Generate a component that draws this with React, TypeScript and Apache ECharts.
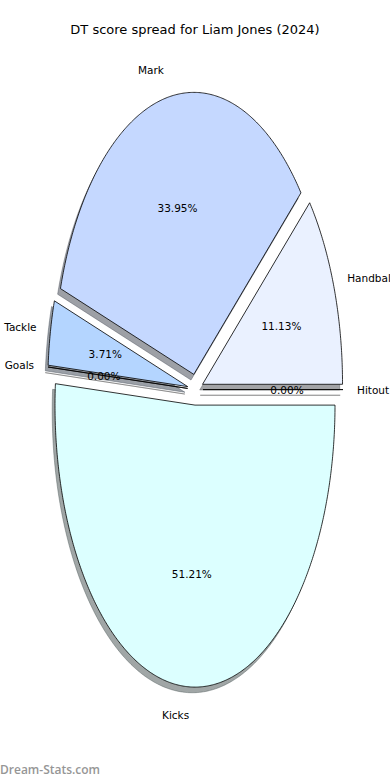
import React, { useEffect, useRef } from 'react';
import * as echarts from 'echarts';

const categories = ['Handball', 'Mark', 'Tackle', 'Goals', 'Kicks', 'Hitout'];
const shares = [11.13, 33.95, 3.71, 0.0, 51.21, 0.0];
const sliceColors = ['#eaf1ff', '#c5d8ff', '#b4d5ff', '#ffffff', '#dcffff', '#ffffff'];
const explode = [0.055, 0.055, 0.055, 0.055, 0.055, 0.055];
const titleText = 'DT score spread for Liam Jones (2024)';
const watermarkText = 'Dream-Stats.com';

// layout of the (vertically stretched) pie
const CX = 195.3;
const CY = 389.6;
const RX = 140;
const RY = 282;
const FONT = 'DejaVu Sans';

function hexToRgb(h: string): number[] {
  const s = h.replace('#', '');
  return [0, 2, 4].map((k) => parseInt(s.slice(k, k + 2), 16));
}

export default function App() {
  const ref = useRef<HTMLDivElement>(null);
  useEffect(() => {
    const chart = echarts.init(ref.current as HTMLDivElement, null, { renderer: 'svg' });
    const total = shares.reduce((a, b) => a + b, 0);
    const starts: number[] = [];
    let acc = 0;
    shares.forEach((v) => {
      starts.push(acc);
      acc += v;
    });

    const geom = (i: number, v: number) => {
      const a1 = (starts[i] / total) * 2 * Math.PI;
      const a2 = ((starts[i] + v) / total) * 2 * Math.PI;
      const mid = (a1 + a2) / 2;
      const e = explode[i];
      const ox = CX + e * RX * Math.cos(mid);
      const oy = CY - e * RY * Math.sin(mid);
      return { a1, a2, mid, ox, oy };
    };

    const renderWedge = (params: any, api: any) => {
      const i = params.dataIndex;
      const v = api.value(0);
      const { a1, a2, ox, oy } = geom(i, v);
      const n = Math.max(1, Math.ceil((a2 - a1) / (Math.PI / 360)));
      const pts: number[][] = [[ox, oy]];
      for (let k = 0; k <= n; k++) {
        const t = a1 + ((a2 - a1) * k) / n;
        pts.push([ox + RX * Math.cos(t), oy - RY * Math.sin(t)]);
      }
      const sdx = -0.02 * RX;
      const sdy = 0.02 * RY;
      const sh = pts.map((p) => [p[0] + sdx, p[1] + sdy]);
      const [r, g, b] = hexToRgb(sliceColors[i]);
      const shColor = `rgba(${Math.round(r * 0.3)},${Math.round(g * 0.3)},${Math.round(b * 0.3)},0.5)`;
      return {
        type: 'group',
        children: [
          { type: 'polygon', shape: { points: sh }, style: { fill: shColor, stroke: shColor, lineWidth: 0.8 } },
          { type: 'polygon', shape: { points: pts }, style: { fill: sliceColors[i], stroke: '#000', lineWidth: 0.8 } },
        ],
      };
    };

    const renderLabels = (params: any, api: any) => {
      const i = params.dataIndex;
      const v = api.value(0);
      const { mid, ox, oy } = geom(i, v);
      const c = Math.cos(mid);
      const s = Math.sin(mid);
      return {
        type: 'group',
        children: [
          {
            type: 'text',
            style: {
              text: categories[i],
              x: ox + 1.1 * RX * c,
              y: oy - 1.1 * RY * s,
              align: c < 0 ? 'right' : 'left',
              verticalAlign: 'middle',
              fontSize: 10.5,
              fontFamily: FONT,
              fill: '#000',
            },
          },
          {
            type: 'text',
            style: {
              text: ((v / total) * 100).toFixed(2) + '%',
              x: ox + 0.6 * RX * c,
              y: oy - 0.6 * RY * s,
              align: 'center',
              verticalAlign: 'middle',
              fontSize: 10.5,
              fontFamily: FONT,
              fill: '#000',
            },
          },
        ],
      };
    };

    chart.setOption({
      animation: false,
      backgroundColor: '#ffffff',
      title: {
        text: titleText,
        left: 'center',
        top: 23,
        padding: 0,
        textStyle: { fontFamily: FONT, fontSize: 13, fontWeight: 'normal', color: '#000' },
      },
      graphic: [
        {
          type: 'text',
          left: 0,
          top: 763,
          style: {
            text: watermarkText,
            fontSize: 12,
            fontWeight: 600,
            fontFamily: 'Open Sans',
            fill: '#969696',
          },
        },
      ],
      series: [
        {
          type: 'custom',
          coordinateSystem: 'none',
          silent: true,
          z: 1,
          data: shares,
          renderItem: renderWedge,
        },
        {
          type: 'custom',
          coordinateSystem: 'none',
          silent: true,
          z: 5,
          data: shares,
          renderItem: renderLabels,
        },
      ],
    });
    return () => chart.dispose();
  }, []);
  return (
    <div
      ref={ref}
      style={{ position: 'absolute', left: 0, top: 0, width: 390, height: 780, background: '#fff' }}
    />
  );
}
